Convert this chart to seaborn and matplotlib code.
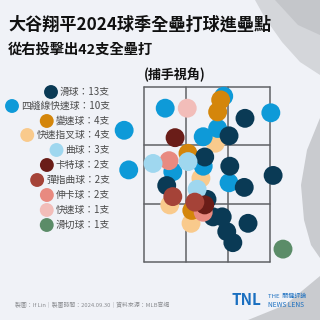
import matplotlib
matplotlib.use("Agg")
import matplotlib.pyplot as plt
import seaborn as sns
import pandas as pd
from matplotlib.patches import Polygon

sns.set_theme(style="white")
plt.rcParams['font.family'] = ['Noto Sans CJK TC', 'DejaVu Sans']

# ---- data (plate x in ft, catcher's view; height in ft) ----
pitch_types = ["滑球", "四縫線快速球", "變速球", "快速指叉球", "曲球",
               "卡特球", "彈指曲球", "伸卡球", "快速球", "滑切球"]
pitch_counts = [13, 10, 4, 4, 3, 2, 2, 2, 1, 1]
pitch_colors = ["#0a3a55", "#0e9ad8", "#d4860b", "#f9ca8c", "#9fd7ef",
                "#6a1d18", "#a54338", "#e88a80", "#f2bdb9", "#5b8c68"]

splitter_x = [0.11, -0.08, -0.49, -0.21]
splitter_z = [2.89, 2.51, 2.22, 2.02]
fourseam_x = [-0.55, 0.22, 0.84, -1.09, -0.05, 0.14, -0.45, -0.05, -1.03, 0.29]
fourseam_z = [3.27, 3.40, 3.22, 3.03, 2.96, 3.05, 2.58, 2.64, 2.60, 2.46]
changeup_x = [0.18, 0.14, -0.25, -0.20]
changeup_z = [3.36, 3.23, 2.78, 2.16]
slider_x = [0.50, 0.29, -0.03, 0.30, 0.87, 0.49, -0.53, 0.08, 0.20, 0.54, 0.26, 0.34, 0.00]
slider_z = [3.16, 2.97, 2.74, 2.64, 2.54, 2.41, 2.43, 2.09, 2.09, 2.02, 1.93, 1.81, 2.28]
sinker_x = [-0.50, -0.05]
sinker_z = [2.70, 2.14]
curve_x = [-0.71, -0.25, -0.13]
curve_z = [2.67, 2.69, 2.39]
cutter_x = [-0.42, -0.03]
cutter_z = [2.95, 2.22]
kcurve_x = [-0.45, -0.16]
kcurve_z = [2.31, 2.25]
fastball_x = [-0.26]
fastball_z = [3.27]
sweeper_x = [1.00]
sweeper_z = [1.74]

footer_text = "製圖：If Lin｜製圖時間：2024.09.30｜資料來源：MLB官網"

# draw order (later on top)
groups = [("快速指叉球", splitter_x, splitter_z),
          ("四縫線快速球", fourseam_x, fourseam_z),
          ("變速球", changeup_x, changeup_z),
          ("滑球", slider_x, slider_z),
          ("伸卡球", sinker_x, sinker_z),
          ("曲球", curve_x, curve_z),
          ("卡特球", cutter_x, cutter_z),
          ("彈指曲球", kcurve_x, kcurve_z),
          ("快速球", fastball_x, fastball_z),
          ("滑切球", sweeper_x, sweeper_z)]
rows = []
for name, xs, zs in groups:
    for x, z in zip(xs, zs):
        rows.append({"type": name, "x": x, "z": z})
df = pd.DataFrame(rows)
palette = dict(zip(pitch_types, pitch_colors))

BG = "#f0f2f7"
fig = plt.figure(figsize=(3.2, 3.2), dpi=100, facecolor=BG)

# background silhouette (decorative)
deco = fig.add_axes([0, 0, 1, 1])
deco.set_xlim(0, 320); deco.set_ylim(320, 0); deco.axis("off")
deco.add_patch(Polygon([[255, 0], [320, 0], [320, 75], [300, 62], [282, 42], [265, 18]],
                       closed=True, color="#d4d6da", lw=0))
deco.add_patch(Polygon([[275, 0], [320, 0], [320, 35], [298, 25]],
                       closed=True, color="#c4c6ca", lw=0))
deco.add_patch(Polygon([[320, 118], [307, 150], [301, 185], [304, 220], [311, 245], [320, 258]],
                       closed=True, color="#c9cbcf", lw=0))
deco.add_patch(Polygon([[320, 276], [285, 305], [248, 320], [320, 320]],
                       closed=True, color="#c9cbcf", lw=0))

ax = fig.add_axes([0, 0, 1, 1])
ax.set_facecolor("none")
ax.set_xlim(-207 / 76, 113 / 76)
ax.set_ylim(1.6 + (262 - 320) / 92.1, 1.6 + 262 / 92.1)
ax.axis("off")

# strike zone grid
zl, zr = -63 / 76, 63 / 76
zb, zt = 1.6, 1.6 + 175 / 92.1
gx = [zl + i * (zr - zl) / 3 for i in range(4)]
gz = [zb + i * (zt - zb) / 3 for i in range(4)]
for x in gx:
    ax.plot([x, x], [zb, zt], color="#606266", lw=1.1, zorder=1)
for z in gz:
    ax.plot([zl, zr], [z, z], color="#606266", lw=1.1, zorder=1)

sns.scatterplot(data=df, x="x", y="z", hue="type", palette=palette, s=185,
                linewidth=0, legend=False, ax=ax, zorder=3)

# titles
fig.text(8 / 320, 1 - 25 / 320, "大谷翔平2024球季全壘打球進壘點", fontsize=12.3,
         fontweight="bold", color="#111111", va="center", ha="left")
fig.text(8 / 320, 1 - 50 / 320, "從右投擊出42支全壘打", fontsize=10.3,
         fontweight="bold", color="#111111", va="center", ha="left")
fig.text(144 / 320, 1 - 75 / 320, "(捕手視角)", fontsize=9.4,
         fontweight="bold", color="#111111", va="center", ha="left")

# legend
leg_y = [92, 106, 121, 135, 150, 165, 180, 195, 210, 225]
label_w = []
for name, cnt, col, y in zip(pitch_types, pitch_counts, pitch_colors, leg_y):
    t = fig.text(110 / 320, 1 - y / 320, f"{name}：{cnt}支", fontsize=7.0,
                 color="#4a4a4a", va="center", ha="right")
    label_w.append(t)
fig.canvas.draw()
r = fig.canvas.get_renderer()
lx, ly, lc = [], [], []
for t, col, y in zip(label_w, pitch_colors, leg_y):
    bb = t.get_window_extent(r)
    lx.append(bb.x0 - 9)
    ly.append(320 - y)
    lc.append(col)
leg_ax = fig.add_axes([0, 0, 1, 1])
leg_ax.set_xlim(0, 320); leg_ax.set_ylim(0, 320); leg_ax.axis("off")
leg_ax.set_facecolor("none")
leg_ax.scatter(lx, ly, s=100, c=lc, linewidths=0)

# footer
fig.text(15 / 320, 1 - 305 / 320, footer_text, fontsize=4.2, color="#8a8c90",
         va="center", ha="left")
fig.text(232 / 320, 1 - 300 / 320, "TNL", fontsize=11, fontweight="heavy",
         color="#1a6fc0", va="center", ha="left", style="italic")
fig.text(268 / 320, 1 - 296 / 320, "THE  關鍵評論", fontsize=4.3, color="#1a6fc0",
         va="center", ha="left")
fig.text(268 / 320, 1 - 305 / 320, "NEWS LENS", fontsize=4.8, color="#1a6fc0",
         va="center", ha="left")

fig.savefig("out.png", dpi=100, facecolor=BG)
